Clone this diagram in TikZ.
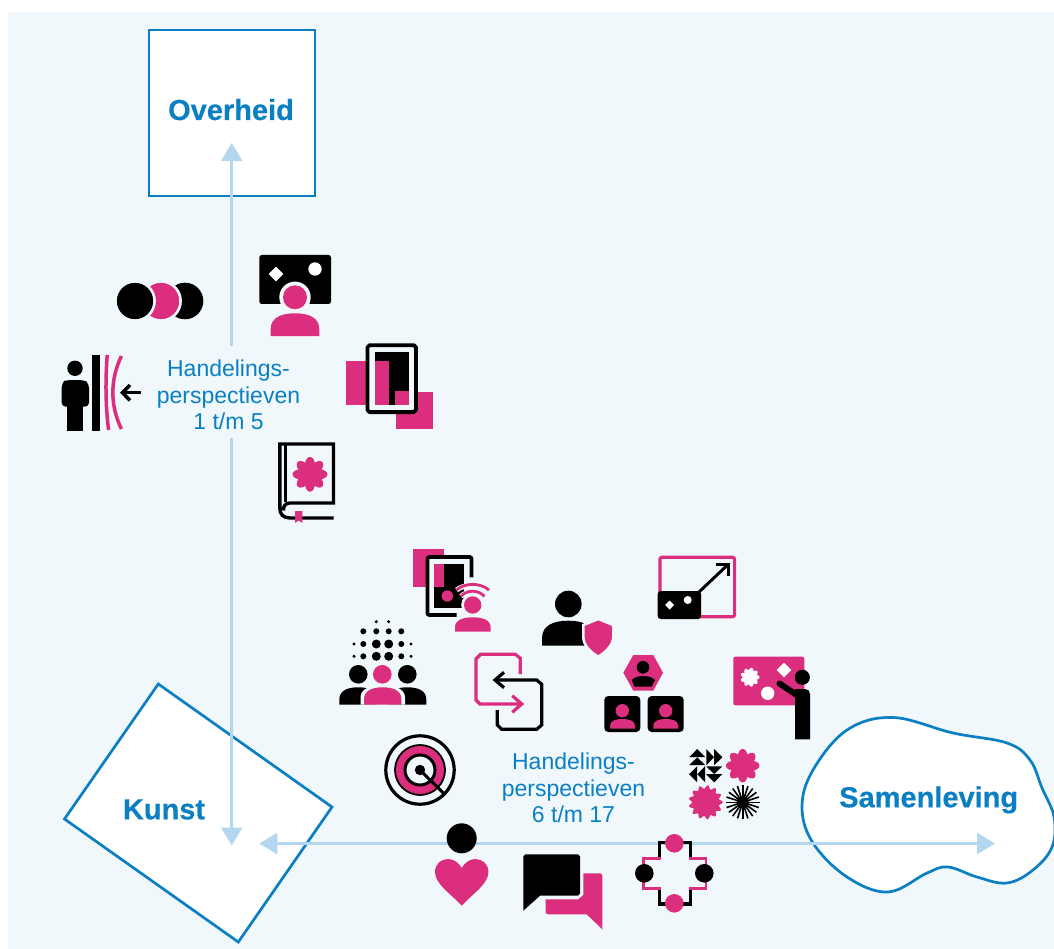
\documentclass[tikz,border=0pt]{standalone}
\usepackage{fontspec}
\setmainfont{Liberation Sans}
\newfontfamily\heavyfont[FakeBold=0.35]{Liberation Sans Bold}
\usetikzlibrary{arrows.meta,calc}
\definecolor{panelbg}{HTML}{F0F8FC}
\definecolor{pnk}{HTML}{DC2E7E}
\definecolor{blu}{HTML}{0A7FC2}
\definecolor{axiscol}{HTML}{B3D7EE}
\newcommand{\bustfill}[5]{\fill[#5] ({#1-#2},#4) -- ({#1-#2},{#4-.3*(#4-#3)}) .. controls ({#1-#2},{#3+.15*(#4-#3)}) and ({#1-.5*#2},#3) .. (#1,#3) .. controls ({#1+.5*#2},#3) and ({#1+#2},{#3+.15*(#4-#3)}) .. ({#1+#2},{#4-.3*(#4-#3)}) -- ({#1+#2},#4) -- cycle;}
\newcommand{\flowerfill}[6]{\fill[#6] plot[domain=0:360,samples=241,variable=\t] ({#1+#3*(#5+(1-#5)*abs(cos(#4*\t/2)))*cos(\t)},{#2+#3*(#5+(1-#5)*abs(cos(#4*\t/2)))*sin(\t)}) -- cycle;}
\newcommand{\starfill}[6]{\fill[#6] plot[domain=0:360,samples=181,variable=\t] ({#1+#3*(#5+(1-#5)*(0.5+0.5*cos(#4*\t)))*cos(\t)},{#2+#3*(#5+(1-#5)*(0.5+0.5*cos(#4*\t)))*sin(\t)}) -- cycle;}
\newcommand{\diamondfill}[3]{\fill[white] ({#1-#3},#2) -- (#1,{#2-#3}) -- ({#1+#3},#2) -- (#1,{#2+#3}) -- cycle;}
\tikzset{
  x=1pt,y=-1pt,
  axisline/.style={draw=axiscol,line width=2.8pt},
  axishead/.style={axisline,-{Triangle[length=18pt,width=21pt,color=axiscol]}},
  boxline/.style={draw=blu,fill=white,line width=2.7pt},
  boldlabel/.style={text=blu,font=\heavyfont\fontsize{29}{32}\selectfont,inner sep=0pt,anchor=base},
  bodylabel/.style={text=blu,font=\fontsize{23}{26.6}\selectfont,align=center,inner sep=0pt},
  blk/.style={fill=black},
  pk/.style={fill=pnk},
  bgring/.style={draw=panelbg,line width=2.6pt},
  stk/.style={draw=black,line width=3.2pt,line join=miter},
  pstk/.style={draw=pnk,line width=3.2pt,line join=miter},
}
\begin{document}
\begin{tikzpicture}
\useasboundingbox (0,0) rectangle (1054,949);
\fill[panelbg] (8,12) rectangle (1054,949);
% category shapes
\node[boxline,minimum size=166pt,inner sep=0pt,rectangle] (overheidbox) at (232,113) {};
\draw[boxline,line join=miter] (158.3,684) -- (332,807) -- (238.3,942) -- (64.5,819) -- cycle;
\draw[boxline] plot[smooth cycle,tension=0.62] coordinates {(893,717.5)(953,733)(1007,743)(1030,760)(1042,788)(1054,817)(1052,847)(1033,870)(1007,883)(977,877)(948,867)(927,873)(888,892)(847,877)(813,843)(802,807)(813,770)(847,730)};
% axes
\coordinate (ovtip) at (231.7,143);
\coordinate (kutip) at (231.7,845.5);
\coordinate (gaptop) at (231.7,346);
\coordinate (gapbot) at (231.7,438);
\coordinate (kuhtip) at (259.3,843.5);
\coordinate (satip) at (995,843.5);
\draw[axishead] (gaptop) -- (ovtip);
\draw[axishead] (gapbot) -- (kutip);
\draw[axisline,{Triangle[length=18pt,width=21pt,color=axiscol]}-{Triangle[length=18pt,width=21pt,color=axiscol]}] (kuhtip) -- (satip);
% labels
\node[boldlabel] (overheid) at (231,120) {Overheid};
\node[boldlabel] (kunst) at (164,819.3) {Kunst};
\node[boldlabel] (samenleving) at (928.7,807.3) {Samenleving};
\node[bodylabel] (hp1) at (228.5,395) {Handelings-\\perspectieven\\1 t/m 5};
\node[bodylabel] (hp2) at (573.5,788) {Handelings-\\perspectieven\\6 t/m 17};
% three circles
\fill[blk] (185,301) circle (18.3);
\filldraw[pk,bgring] (161,301) circle (19.6);
\filldraw[blk,bgring] (135,301) circle (19.6);
% screen with person
\fill[blk,rounded corners=2.5pt] (259.3,255) rectangle (331,304);
\diamondfill{276}{274}{7.3}
\fill[white] (315,269) circle (6.7);
\fill[panelbg] (295,297.3) circle (15.7);
\fill[pk] (295,297.3) circle (12);
\bustfill{295}{24.3}{313.3}{336}{pk}
% person, wall, arcs
\fill[blk] (75,368.3) circle (7.7);
\fill[blk,rounded corners=4pt] (61.7,384) .. controls (64,381) and (70,380) .. (75,380) .. controls (80,380) and (86,381) .. (89,384) -- (89,406.7) -- (61.7,406.7) -- cycle;
\fill[blk] (66.7,400) rectangle (83.3,431);
\fill[blk] (92.3,355) rectangle (100,431);
\draw[pnk,line width=3.5pt] (107.2,355) .. controls (105.4,380) and (105.4,405) .. (108.6,430);
\draw[pnk,line width=3.5pt] (121.4,356) .. controls (110,380) and (110,405) .. (121.4,429);
\draw[black,line width=3.5pt] (141,392.7) -- (122,392.7);
\draw[black,line width=3.5pt] (130,385) -- (122.5,392.7) -- (130,400.4);
% tablet with pink squares
\fill[pk] (346,361) rectangle (370,405);
\fill[pk] (395.7,391.7) rectangle (433,429.3);
\draw[black,fill=panelbg,line width=3.8pt,line join=round] (369.5,345.2) -- (413.8,345.2) -- (415.9,347.3) -- (415.9,410) -- (413.8,412.1) -- (369.5,412.1) -- (367.5,410) -- (367.5,347.3) -- cycle;
\fill[blk] (375,351.7) rectangle (409,405);
\fill[pk] (375,361) rectangle (389,405);
\fill[pk] (395,391) rectangle (409,405);
% book
\flowerfill{310}{474.3}{17.3}{8}{0.72}{pk}
\draw[black,line width=3.4pt,line join=miter] (333.5,518) -- (290,518) .. controls (283,518) and (279.8,514) .. (279.8,508) -- (279.8,444) -- (333.5,444) -- (333.5,503) -- (290,503) .. controls (285,503) and (283,507) .. (283.5,510.5);
\draw[black,line width=2.4pt] (285.6,444) -- (285.6,502);
\draw[white,line width=1.6pt] (287,510.5) -- (332,510.5);
\fill[pk] (295,511) -- (302.3,511) -- (302.3,523) -- (298.7,520.5) -- (295,523) -- cycle;
% tablet with wifi
\fill[pk] (413.3,549) rectangle (444,586.7);
\fill[panelbg,rounded corners=2pt] (427.5,557) rectangle (471.5,615);
\draw[black,line width=3.8pt,rounded corners=2pt] (471.5,577.3) -- (471.5,557) -- (427.5,557) -- (427.5,615) -- (456.7,615);
\fill[blk] (434,564) rectangle (464.3,608.3);
\fill[pk] (434,564) rectangle (444,586.7);
\fill[pk] (447.3,596) circle (5.7);
\fill[panelbg] (472.7,605) circle (11.5);
\draw[panelbg,line width=5pt] (456.5,590) .. controls (465,583.5) and (480,583.5) .. (489,590);
\draw[panelbg,line width=5pt] (461,596.5) .. controls (466,590.5) and (479,590.5) .. (484.3,596.5);
\draw[pnk,line width=2.8pt] (456.5,590) .. controls (465,582.5) and (480,582.5) .. (489,590);
\draw[pnk,line width=2.8pt] (461,596.5) .. controls (466,589.5) and (479,589.5) .. (484.3,596.5);
\fill[pk] (472.7,605) circle (8.7);
\bustfill{472.8}{17.8}{617.3}{631.7}{pk}
% crowd
\foreach \cx in {376.3,388.7} \fill[blk] (\cx,621.7) circle (1.7);
\foreach \cx in {363.3,376.3,388.7,401.3} \fill[blk] (\cx,631.3) circle (3);
\foreach \cy in {644,656.3} {
  \foreach \cx/\cr in {354/1.7,363.3/3,376.3/4.5,388.7/4.5,401.3/3,411/1.7} \fill[blk] (\cx,\cy) circle (\cr);
}
\fill[blk] (358.3,674.3) circle (9.3);
\fill[blk] (407.3,674.3) circle (9.3);
\bustfill{358.3}{19}{687.3}{704.7}{blk}
\bustfill{407.3}{19}{687.3}{704.7}{blk}
\fill[panelbg] (360.5,704.7) -- (360.5,697) .. controls (360.5,689) and (372,684.3) .. (382.7,684.3) .. controls (393,684.3) and (405,689) .. (405,697) -- (405,704.7) -- cycle;
\fill[pk] (382.3,674.3) circle (9.3);
\bustfill{382.7}{18.7}{687.3}{704.7}{pk}
% swap arrows
\draw[pstk] (520.3,674) -- (520.3,658.3) -- (515.5,654.3) -- (480.7,654.3) -- (476,659) -- (476,700) -- (480,704) -- (521.7,704);
\draw[pstk] (512.3,695.7) -- (521.7,704) -- (512.3,712.3);
\draw[stk] (495,680) -- (536.7,680) -- (541.7,684.3) -- (541.7,725) -- (536.7,729.3) -- (501.7,729.3) -- (497.3,725) -- (497.3,710);
\draw[stk] (504,672.3) -- (495,680) -- (504,687.7);
% person with shield
\fill[blk] (568.3,604) circle (13.3);
\bustfill{568.3}{26.3}{620.7}{645.7}{blk}
\filldraw[pk,bgring] (598.3,619) -- (613.3,625) -- (613.3,636.7) .. controls (613.3,645) and (606,652) .. (598.3,656.7) .. controls (590,652) and (583.3,645) .. (583.3,636.7) -- (583.3,625) -- cycle;
% enlarge screen
\draw[pnk,line width=3.2pt,rounded corners=2pt] (659.9,557.3) rectangle (734.6,616.7);
\fill[blk,rounded corners=3pt] (657.7,591) rectangle (701,619);
\diamondfill{669.7}{605}{4.5}
\fill[white] (687.7,600) circle (4);
\draw[black,line width=3pt] (699.3,591.7) -- (727,565.5);
\draw[black,line width=3pt] (715.7,564.5) -- (728.3,564.5) -- (728.3,576);
% hexagon with person
\fill[pk] (623.3,672.7) -- (633.3,655) -- (653.3,655) -- (663,672.7) -- (653.3,690.7) -- (633.3,690.7) -- cycle;
\fill[blk] (643,667.3) circle (6.3);
\fill[blk] (634.5,686.7) -- (631.7,680) .. controls (634,677) and (640,676) .. (643,676) .. controls (647,676) and (652,677) .. (655,680) -- (651.5,686.7) -- cycle;
% two portraits
\fill[blk,rounded corners=4pt] (604.3,696) rectangle (640.3,732);
\fill[blk,rounded corners=4pt] (647.7,696) rectangle (683.7,732);
\fill[pk] (622.3,710.7) circle (6.7);
\fill[pk] (665.7,710.7) circle (6.7);
\bustfill{622.5}{12.5}{719}{728.7}{pk}
\bustfill{665.8}{12.5}{719}{728.7}{pk}
% presenter
\fill[pk,rounded corners=2pt] (733.3,656.7) rectangle (804.3,705.3);
\flowerfill{750}{677.3}{9.5}{9}{0.72}{white}
\diamondfill{784}{670}{7.3}
\fill[white] (767.7,693.3) circle (6.7);
\fill[blk] (802.3,677.3) circle (7.6);
\fill[blk] (795,739.3) -- (795,689) -- (805,689) .. controls (808,689) and (810,691) .. (810,694) -- (810,739.3) -- cycle;
\draw[black,line width=6pt,line cap=round] (779.5,683.5) -- (796,694.5);
% target
\fill[pk] (420,770) circle (24.8);
\fill[panelbg] (420,770) circle (15);
\draw[black,line width=3.2pt] (420,770) circle (34.2);
\draw[black,line width=1.8pt] (420,770) circle (25);
\draw[black,line width=3pt] (420,770) circle (15);
\draw[black,line width=3pt] (420,770) -- (443.3,793);
\fill[blk] (420,770) circle (5.2);
% quilt pinwheel
\foreach \ang in {0,-90,-180,-270} {
  \begin{scope}[rotate around={\ang:(705.7,765.7)}]
    \fill[blk] (689.2,757.2) -- (697.2,749) -- (705.2,757.2) -- cycle;
    \fill[blk] (689.2,765) -- (697.2,757.4) -- (705.2,765) -- cycle;
  \end{scope}
}
\flowerfill{742.7}{765.7}{16.7}{8}{0.72}{pk}
\starfill{705.7}{802.3}{17}{13}{0.8}{pk}
\foreach \ang in {0,18,...,162} {
  \draw[black,line width=1.6pt] ({742.7+17*cos(\ang)},{802.3+17*sin(\ang)}) -- ({742.7-17*cos(\ang)},{802.3-17*sin(\ang)});
}
\fill[blk] (742.7,802.3) circle (6);
% heart person
\fill[blk] (461.7,838.3) circle (15);
\fill[pk] (461.7,905.7) .. controls (450,893) and (435,884) .. (435,872) .. controls (435,864) and (441,859) .. (448,859) .. controls (454,859) and (459,863) .. (461.7,868) .. controls (464.4,863) and (469.4,859) .. (475.4,859) .. controls (482.4,859) and (488.4,864) .. (488.4,872) .. controls (488.4,884) and (473.4,893) .. (461.7,905.7) -- cycle;
% chat bubbles
\fill[blk] (523.3,856.3) -- (525.3,854.3) -- (578,854.3) -- (580,856.3) -- (580,893.7) -- (578,895.7) -- (540,895.7) -- (523.3,910.7) -- cycle;
\fill[pk] (583.3,873.3) -- (600.5,873.3) -- (602.3,875) -- (602.3,929.3) -- (586.7,914.3) -- (547.5,914.3) -- (545.7,912.5) -- (545.7,899.3) -- (578.3,899.3) -- (583.3,895) -- cycle;
% cross ring
\draw[black,line width=3.4pt,line join=miter] (659.3,858.3) -- (659.3,842.7) -- (690.7,842.7) -- (690.7,858.3);
\draw[black,line width=3.4pt,line join=miter] (659.3,888.3) -- (659.3,904) -- (690.7,904) -- (690.7,888.3);
\draw[pnk,line width=2.6pt,line join=miter] (660.9,858.3) -- (643.3,858.3) -- (643.3,888.3) -- (660.9,888.3);
\draw[pnk,line width=2.6pt,line join=miter] (689.1,858.3) -- (706,858.3) -- (706,888.3) -- (689.1,888.3);
\fill[pk] (674.3,843.3) circle (9.3);
\fill[pk] (674.3,903.3) circle (9.3);
\fill[blk] (644.3,873.3) circle (9.3);
\fill[blk] (704.3,873.3) circle (9.3);
\end{tikzpicture}
\end{document}
